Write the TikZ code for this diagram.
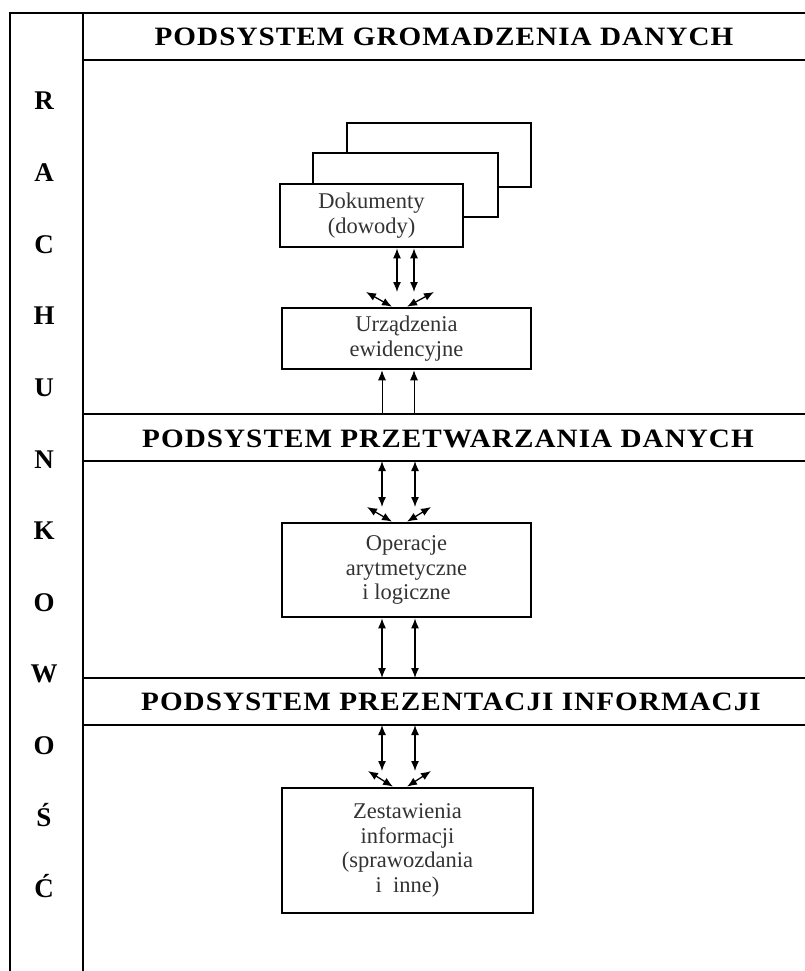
\documentclass[tikz,border=0pt]{standalone}
\usepackage{fontspec}
\setmainfont{Liberation Serif}
\newfontfamily\szeroki[LetterSpace=4,FakeStretch=1.1]{Liberation Serif}
\usetikzlibrary{arrows.meta}
\tikzset{
	ramka/.style={line width=2.4pt},
	blok/.style={draw,line width=2.6pt,fill=white,align=center,inner sep=0pt,text=black!80,font=\fontsize{22.5}{24.5}\selectfont},
	naglowek/.style={font=\szeroki\fontsize{26.5}{30}\selectfont\bfseries},
	litera/.style={anchor=base,font=\fontsize{27}{30}\selectfont\bfseries},
	dwu/.style={{Latex[length=10pt,width=8pt]}-{Latex[length=10pt,width=8pt]},line width=1.3pt},
	jedn/.style={-{Latex[length=10pt,width=8pt]},line width=0.9pt}
}
\begin{document}
\begin{tikzpicture}[x=1pt,y=-1pt]
	\useasboundingbox (0,0) rectangle (805,971);
	\draw[ramka] (10,971) -- (10,13) -- (805,13);
	\draw[ramka] (83,13) -- (83,971);
	\foreach \y/\n in {60/l1,414/l2,461/l3,678/l4,725/l5}{
		\coordinate (\n) at (83,\y);
		\draw[ramka] (\n) -- (805,\y);
	}
	\foreach \l [count=\i from 0] in {R,A,C,H,U,N,K,O,W,O,Ś,Ć}
		\node[litera] (lit\i) at (44,110+71.6*\i) {\l};
	\node[naglowek] (pgd) at (444,37) {PODSYSTEM GROMADZENIA DANYCH};
	\node[naglowek] (ppd) at (448,439) {PODSYSTEM PRZETWARZANIA DANYCH};
	\node[naglowek] (ppi) at (451,702) {PODSYSTEM PREZENTACJI INFORMACJI};
	\node[blok,minimum width=184pt,minimum height=64pt] (doc3) at (439,155) {};
	\node[blok,minimum width=185pt,minimum height=64pt] (doc2) at (405.5,185) {};
	\node[blok,minimum width=183pt,minimum height=63pt] (doc) at (371.5,215.5) {Dokumenty\\(dowody)};
	\node[blok,minimum width=249pt,minimum height=61pt] (urz) at (406.5,338.5) {Urządzenia\\ewidencyjne};
	\node[blok,minimum width=249pt,minimum height=94pt] (oper) at (406.5,570) {Operacje\\arytmetyczne\\i logiczne};
	\node[blok,minimum width=251pt,minimum height=125pt] (zest) at (407.5,850.5) {Zestawienia\\informacji\\(sprawozdania\\i~ inne)};
	\coordinate (sA) at (406,292);
	\coordinate (sC) at (406,507);
	\coordinate (sE) at (406,771);
	\foreach \x in {397,414}
		\draw[dwu] (doc.south -| \x,0) -- (sA -| \x,0);
	\draw[dwu] (sA -| 366,0) -- (urz.north -| 392,0);
	\draw[dwu] (urz.north -| 407,0) -- (sA -| 434,0);
	\foreach \x in {382,414}
		\draw[jedn] (l2 -| \x,0) -- (urz.south -| \x,0);
	\foreach \x in {382,415}
		\draw[dwu] (l3 -| \x,0) -- (sC -| \x,0);
	\draw[dwu] (sC -| 367,0) -- (oper.north -| 392,0);
	\draw[dwu] (oper.north -| 407,0) -- (sC -| 431,0);
	\foreach \x in {382,415}
		\draw[dwu] (oper.south -| \x,0) -- (l4 -| \x,0);
	\foreach \x in {382,415}
		\draw[dwu] (l5 -| \x,0) -- (sE -| \x,0);
	\draw[dwu] (sE -| 368,0) -- (zest.north -| 393,0);
	\draw[dwu] (zest.north -| 407,0) -- (sE -| 431,0);
\end{tikzpicture}
\end{document}
